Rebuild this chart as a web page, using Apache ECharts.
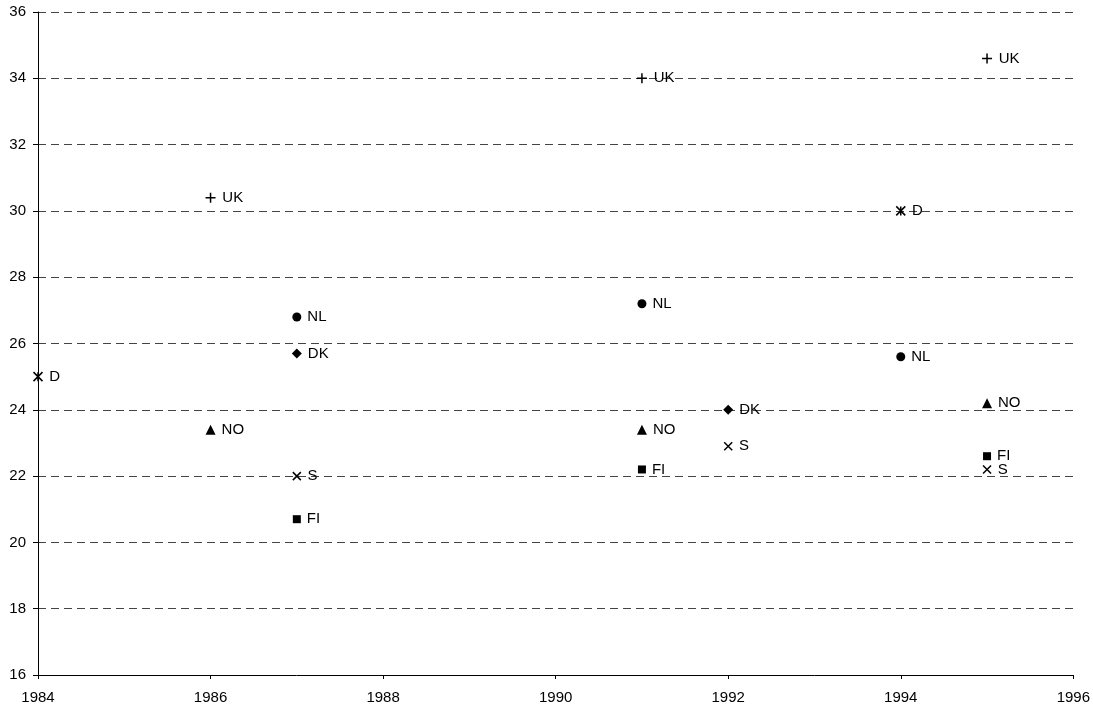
<!DOCTYPE html>
<html><head><meta charset="utf-8">
<script src="https://cdn.jsdelivr.net/npm/echarts@6/dist/echarts.min.js"></script>
<style>html,body{margin:0;padding:0;background:#fff}#c{width:1093px;height:709px}</style>
</head><body><div id="c"></div>
<script>
// Data: [year, value]
const seriesNames = ['UK', 'NL', 'DK', 'D', 'NO', 'S', 'FI'];
const UK = [[1986, 30.4], [1991, 34.0], [1995, 34.6]];
const NL = [[1987, 26.8], [1991, 27.2], [1994, 25.6]];
const DK = [[1987, 25.7], [1992, 24.0]];
const D  = [[1984, 25.0], [1994, 30.0]];
const NO = [[1986, 23.4], [1991, 23.4], [1995, 24.2]];
const S  = [[1987, 22.0], [1992, 22.9], [1995, 22.2]];
const FI = [[1987, 20.7], [1991, 22.2], [1995, 22.6]];
const xTicks = [1984, 1986, 1988, 1990, 1992, 1994, 1996];
const yTicks = [16, 18, 20, 22, 24, 26, 28, 30, 32, 34, 36];

const dataMap = {UK, NL, DK, D, NO, S, FI};
const FONT = 'Liberation Sans, Arial, sans-serif';
const stroked = {color: 'transparent', borderColor: '#000', borderWidth: 1.5, opacity: 1};
const filled = {color: '#000', opacity: 1};
const markers = {
  UK: {symbol: 'path://M5,0 L5,10 M0,5 L10,5', size: 10, style: stroked},
  NL: {symbol: 'circle', size: 9, style: filled},
  DK: {symbol: 'diamond', size: 10, style: filled},
  D:  {symbol: 'path://M0,0 L10,10 M10,0 L0,10 M5,0 L5,10', size: 9, style: stroked},
  NO: {symbol: 'triangle', size: 10, style: filled},
  S:  {symbol: 'path://M0,0 L10,10 M10,0 L0,10', size: 8, style: stroked},
  FI: {symbol: 'rect', size: 8, style: filled}
};

const chart = echarts.init(document.getElementById('c'), null, {renderer: 'canvas'});
chart.setOption({
  animation: false,
  backgroundColor: '#fff',
  grid: {left: 38, right: 18, top: 12, bottom: 34, containLabel: false},
  xAxis: {
    type: 'value', min: xTicks[0], max: xTicks[xTicks.length - 1], interval: 2,
    axisLine: {show: true, onZero: false, lineStyle: {color: '#000', width: 1}},
    axisTick: {show: true, inside: false, length: 4, lineStyle: {color: '#000'}},
    axisLabel: {color: '#000', fontFamily: FONT, fontSize: 15, margin: 15,
      formatter: v => String(v)},
    splitLine: {show: false}
  },
  yAxis: {
    type: 'value', min: yTicks[0], max: yTicks[yTicks.length - 1], interval: 2,
    axisLine: {show: true, onZero: false, lineStyle: {color: '#000', width: 1}},
    axisTick: {show: true, inside: false, length: 5, lineStyle: {color: '#000'}},
    axisLabel: {color: '#000', fontFamily: FONT, fontSize: 15, margin: 12,
      formatter: v => String(v)},
    splitLine: {show: true, lineStyle: {color: '#444', type: [8, 5], width: 1}}
  },
  series: seriesNames.map(n => ({
    name: n,
    type: 'scatter',
    data: dataMap[n],
    symbol: markers[n].symbol,
    symbolSize: markers[n].size,
    itemStyle: markers[n].style,
    label: {
      show: true, position: 'right', distance: 6,
      formatter: () => n, color: '#000', fontFamily: FONT, fontSize: 15
    },
    z: 3
  }))
});
</script></body></html>
